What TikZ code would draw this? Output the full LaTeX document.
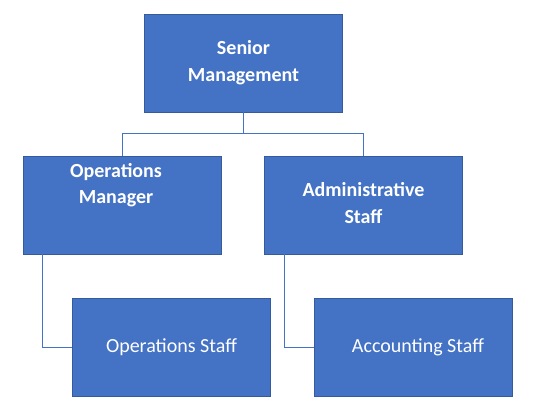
\documentclass[tikz,border=0pt]{standalone}
\usepackage{fontspec}
\setmainfont{Carlito}
\usetikzlibrary{positioning}
\definecolor{boxblue}{HTML}{4472C4}
\begin{document}
\begin{tikzpicture}[x=0.75pt,y=-0.75pt,
    box/.style ={
        fill=boxblue,
        draw=boxblue!80!black,
        line width=0.4pt,
        minimum width=148.5pt,
        minimum height=73.5pt
    },
    lbl/.style ={
        white,
        align=center,
        font=\fontsize{15}{20}\selectfont
    },
    link/.style ={
        draw=boxblue,
        line width=0.6pt
    }
    ]
    \useasboundingbox (0,0) rectangle (539,414);
    \foreach \x/ \px/ \py in {top/243.5/63, opm/122/205, adm/363.5/205, ops/171.5/347, acc/413.5/347}
        \node[box] (\x) at (\px,\py) {};

    \node[lbl,font=\fontsize{15}{20}\selectfont\bfseries] (ttop) at (243.5,63) {Senior\\Management};
    \node[lbl,font=\fontsize{15}{20}\selectfont\bfseries] (topm) at (116,185) {Operations\\Manager};
    \node[lbl,font=\fontsize{15}{20}\selectfont\bfseries] (tadm) at (363.5,203) {Administrative\\Staff};
    \node[lbl] (tops) at (171.5,347) {Operations Staff};
    \node[lbl] (tacc) at (418,347) {Accounting Staff};

    \coordinate (mid) at (243.5,133);
    \draw[link] (top.south) -- (mid) -| (opm.north);
    \draw[link] (mid) -| (adm.north);
    \draw[link] ([xshift=15pt]opm.south west) |- (ops.west);
    \draw[link] ([xshift=15pt]adm.south west) |- (acc.west);
\end{tikzpicture}
\end{document}
